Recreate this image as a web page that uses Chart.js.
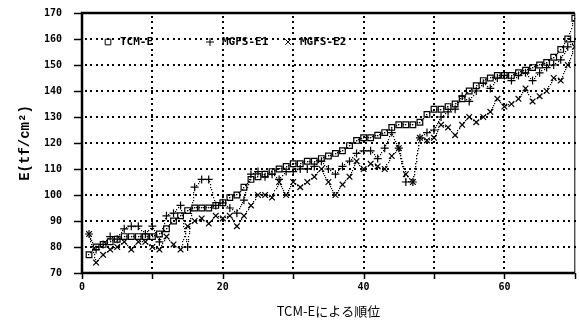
<!DOCTYPE html>
<html>
<head>
<meta charset="utf-8">
<script src="https://cdn.jsdelivr.net/npm/chart.js@4/dist/chart.umd.min.js"></script>
<style>
html,body{margin:0;padding:0;background:#fff;}
#wrap{width:580px;height:331px;position:relative;}
</style>
</head>
<body>
<div id="wrap"><canvas id="c" width="580" height="331"></canvas></div>
<script>
const ranks = [1,2,3,4,5,6,7,8,9,10,11,12,13,14,15,16,17,18,19,20,21,22,23,24,25,26,27,28,29,30,31,32,33,34,35,36,37,38,39,40,41,42,43,44,45,46,47,48,49,50,51,52,53,54,55,56,57,58,59,60,61,62,63,64,65,66,67,68,69,70];
const tcmE = [77,80,81,82,83,84,84,84,84,84,85,87,90,92,94,95,95,95,96,97,99,100,103,106,107,108,109,110,111,112,112,113,113,114,115,116,117,119,121,122,122,123,124,126,127,127,127,128,131,133,133,134,135,137,140,142,144,145,146,146,146,147,148,149,150,151,153,156,160,168];
const mgfsE1 = [85,79,81,84,83,87,88,88,85,88,82,92,93,96,80,103,106,106,96,97,95,93,98,108,109,107,108,106,109,109,110,110,111,113,110,108,111,113,116,117,117,114,118,124,118,105,105,122,124,125,130,132,133,138,136,140,143,141,145,146,144,146,147,144,147,149,150,152,157,159];
const mgfsE2 = [85,74,77,79,80,82,79,82,82,80,79,84,81,79,88,90,91,89,92,91,92,88,92,96,100,100,99,105,100,105,103,105,107,110,105,100,104,107,113,110,112,111,110,115,118,108,105,122,121,122,127,126,123,127,130,128,130,132,137,134,135,137,141,136,138,140,145,144,150,157];
const seriesNames = ['TCM-E','MGFS-E1','MGFS-E2'];
const xTitle = 'TCM-Eによる順位';
const yTitle = 'E(tf/cm²)';

const toPts = arr => arr.map((v,i)=>({x:ranks[i], y:v}));
const tickFont = {family:'DejaVu Sans Mono', size:10, weight:'bold'};

function dotLine(ctx, x0, y0, x1, y1, gap, size){
  const len = Math.hypot(x1-x0, y1-y0);
  const n = Math.max(1, Math.round(len/gap));
  for(let k=0;k<=n;k++){
    const t = k/n;
    ctx.fillRect(Math.round(x0+(x1-x0)*t - size/2), Math.round(y0+(y1-y0)*t - size/2), size, size);
  }
}

const gridAndLines = {
  id:'gridAndLines',
  beforeDatasetsDraw(chart){
    const {ctx, chartArea:a, scales:{x, y}} = chart;
    ctx.save();
    ctx.fillStyle='#000';
    y.ticks.forEach(t=>{ const py = y.getPixelForValue(t.value); if (py > a.top+2 && py < a.bottom-2) dotLine(ctx, a.left+4, py, a.right, py, 5.5, 2); });
    x.ticks.forEach(t=>{ const px = x.getPixelForValue(t.value); if (px > a.left+2 && px < a.right-2) dotLine(ctx, px, a.top+4, px, a.bottom, 5.5, 2); });
    ctx.strokeStyle='#000'; ctx.lineWidth=1.5;
    ctx.beginPath();
    y.ticks.forEach(t=>{ const py = Math.round(y.getPixelForValue(t.value))+0.5; ctx.moveTo(a.left-8, py); ctx.lineTo(a.left, py); });
    x.ticks.forEach(t=>{ const px = Math.round(x.getPixelForValue(t.value))+0.5; ctx.moveTo(px, a.bottom); ctx.lineTo(px, a.bottom+6); });
    ctx.stroke();
    chart.data.datasets.forEach((d,i)=>{
      const pts = chart.getDatasetMeta(i).data;
      for(let k=1;k<pts.length;k++) dotLine(ctx, pts[k-1].x, pts[k-1].y, pts[k].x, pts[k].y, 2.6, 1.2);
    });
    ctx.restore();
  },
  afterDraw(chart){
    const {ctx, chartArea:a} = chart;
    ctx.save();
    ctx.strokeStyle='#000';
    ctx.lineWidth=2.5;
    ctx.beginPath();
    ctx.moveTo(a.right, a.top); ctx.lineTo(a.left, a.top); ctx.lineTo(a.left, a.bottom); ctx.lineTo(a.right, a.bottom);
    ctx.stroke();
    ctx.lineWidth=1;
    ctx.beginPath(); ctx.moveTo(a.right, a.top); ctx.lineTo(a.right, a.bottom); ctx.stroke();
    const xs = [a.left+26, a.left+128, a.left+206];
    const ly = a.top + 29;
    ctx.fillStyle='rgba(0,0,0,0)';
    chart.data.datasets.forEach((d,i)=>{
      Chart.helpers.drawPoint(ctx, {pointStyle:d.pointStyle, radius:4, borderWidth:1.2, rotation:0}, xs[i], ly);
    });
    ctx.fillStyle='#000';
    ctx.font = 'bold 11px "DejaVu Sans Mono"';
    ctx.textBaseline='middle';
    ctx.textAlign='left';
    chart.data.datasets.forEach((d,i)=>{ ctx.fillText(d.label, xs[i]+12, ly); });
    ctx.restore();
  }
};

const mk = (label, data, style) => ({
  label, data: toPts(data),
  borderColor:'#000', backgroundColor:'#000',
  borderWidth:0, showLine:false, fill:false,
  pointStyle: style, pointRadius:4, pointBorderWidth:1.2,
  pointBorderColor:'#000', pointBackgroundColor:'rgba(0,0,0,0)',
  tension:0
});

new Chart(document.getElementById('c'), {
  type:'line',
  data:{ datasets:[ mk(seriesNames[0], tcmE, 'rect'), mk(seriesNames[1], mgfsE1, 'cross'), mk(seriesNames[2], mgfsE2, 'crossRot') ] },
  options:{
    responsive:false, animation:false, devicePixelRatio:1,
    layout:{padding:{top:13, right:1, left:0, bottom:0}},
    plugins:{
      legend:{display:false},
      tooltip:{enabled:false}
    },
    scales:{
      x:{
        type:'linear', min:0, max:70,
        ticks:{stepSize:10, color:'#000', font:tickFont, padding:2, maxRotation:0,
          callback:v => (v%20===0 && v<70) ? String(v) : ''},
        grid:{display:false, tickLength:6},
        border:{display:false},
        title:{display:true, text:xTitle, color:'#000', font:{family:'Noto Sans CJK JP', size:13}, padding:{top:0,bottom:12}},
        afterFit(s){ s.height = 58; s.paddingLeft = 0; s.paddingRight = 0; }
      },
      y:{
        min:70, max:170,
        ticks:{stepSize:10, color:'#000', font:tickFont, padding:12},
        grid:{display:false},
        border:{display:false},
        title:{display:true, text:yTitle, color:'#000', font:{family:'Liberation Mono', size:14, weight:'bold'}, padding:{top:17,bottom:0}},
        afterFit(s){ s.width = 82; s.paddingTop = 0; s.paddingBottom = 0; }
      }
    }
  },
  plugins:[gridAndLines]
});
</script>
</body>
</html>
